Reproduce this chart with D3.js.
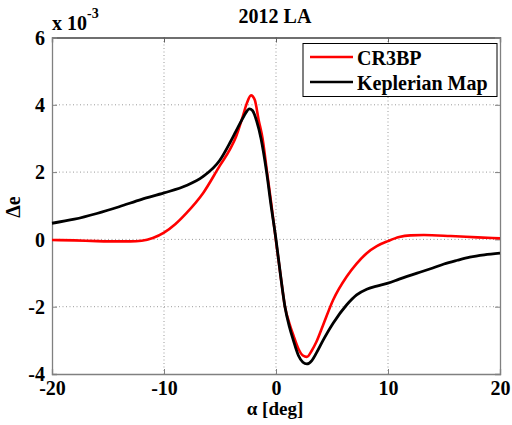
<!DOCTYPE html>
<html>
<head>
<meta charset="utf-8">
<script src="https://cdn.jsdelivr.net/npm/d3@7/dist/d3.min.js"></script>
<style>
  html, body { margin: 0; padding: 0; background: #fff; }
  svg text { font-family: "Liberation Serif", Tinos, "Times New Roman", Times, "Nimbus Roman", "DejaVu Serif", serif; font-weight: bold; fill: #000; }
</style>
</head>
<body>
<svg id="chart" width="512" height="425"></svg>
<script>
// Eccentricity change Δe (x 10^-3) versus angle α for 2012 LA
const alphaCR3BP = [-20, -18, -16, -14, -13, -12, -11, -10, -9, -8, -6.5, -5, -4.1, -3.57, -3, -2.6, -2.23, -1.9, -1.55, -1.2, -0.8, -0.4, 0, 0.4, 0.8, 1.2, 1.55, 2, 2.4, 2.75, 3.2, 3.6, 4.2, 5.1, 6.3, 7.2, 8.1, 9, 10, 11, 12, 13.2, 15.6, 18, 20];
const deltaCR3BP = [-0.02, -0.03, -0.05, -0.06, -0.06, -0.04, 0.04, 0.2, 0.45, 0.78, 1.38, 2.2, 2.68, 3.05, 3.62, 4.05, 4.28, 4.15, 3.55, 3.0, 2.0, 1.0, -0.05, -1.05, -2.0, -2.5, -2.85, -3.25, -3.45, -3.49, -3.3, -3.05, -2.55, -1.8, -1.11, -0.72, -0.41, -0.2, -0.05, 0.07, 0.12, 0.13, 0.1, 0.06, 0.03];

const alphaKepler = [-20, -18, -16, -14, -12, -10, -8, -6.5, -5, -4.1, -3.57, -3, -2.7, -2.38, -2.1, -1.72, -1.34, -0.84, -0.45, 0, 0.4, 0.8, 1.2, 1.55, 2, 2.4, 2.75, 3.2, 3.6, 4.2, 5.1, 6.3, 7.2, 8.1, 9, 10, 11, 12.6, 14, 15, 16.2, 17.3, 18.6, 20];
const deltaKepler = [0.48, 0.6, 0.77, 0.97, 1.19, 1.38, 1.6, 1.87, 2.36, 2.88, 3.22, 3.58, 3.76, 3.88, 3.83, 3.51, 3.0, 2.0, 1.03, 0.0, -1.05, -2.0, -2.6, -3.0, -3.45, -3.65, -3.7, -3.6, -3.38, -3.0, -2.49, -1.95, -1.65, -1.48, -1.39, -1.3, -1.18, -1.0, -0.85, -0.73, -0.62, -0.53, -0.46, -0.41];

const xTicks = [-20, -10, 0, 10, 20];
const yTicks = [-4, -2, 0, 2, 4, 6];
const seriesNames = ["CR3BP", "Keplerian Map"];
const seriesColors = ["#ff0000", "#000000"];

const svg = d3.select("#chart");
const plotLeft = 52, plotRight = 500, plotTop = 37.5, plotBottom = 374;

const x = d3.scaleLinear().domain([-20, 20]).range([plotLeft, plotRight]);
const y = d3.scaleLinear().domain([-4, 6]).range([plotBottom, plotTop]);

// dotted grid at interior ticks
const grid = svg.append("g").attr("stroke", "#9a9a9a").attr("stroke-width", 1).attr("stroke-dasharray", "1,2.5");
xTicks.filter(t => t > -20 && t < 20).forEach(t => {
  grid.append("line").attr("x1", x(t)).attr("x2", x(t)).attr("y1", plotTop).attr("y2", plotBottom);
});
yTicks.filter(t => t > -4 && t < 6).forEach(t => {
  grid.append("line").attr("x1", plotLeft).attr("x2", plotRight).attr("y1", y(t)).attr("y2", y(t));
});

// axes with inward ticks on all four sides
const fmt = d => String(d).replace("\u2212", "-");
const axB = d3.axisBottom(x).tickValues(xTicks).tickSize(-5).tickFormat(fmt);
const axT = d3.axisTop(x).tickValues(xTicks).tickSize(-5).tickFormat("");
const axL = d3.axisLeft(y).tickValues(yTicks).tickSize(-5).tickFormat(fmt);
const axR = d3.axisRight(y).tickValues(yTicks).tickSize(-5).tickFormat("");

const gB = svg.append("g").attr("transform", `translate(0,${plotBottom})`).call(axB);
const gT = svg.append("g").attr("transform", `translate(0,${plotTop})`).call(axT);
const gL = svg.append("g").attr("transform", `translate(${plotLeft},0)`).call(axL);
const gR = svg.append("g").attr("transform", `translate(${plotRight},0)`).call(axR);
[gB, gT, gL, gR].forEach(g => g.attr("font-family", null).attr("font-size", null));

[gB, gL, gR].forEach(g => { g.select(".domain").attr("stroke", "#808080").attr("stroke-width", 1.3); g.selectAll(".tick line").attr("stroke", "#808080"); });
gT.select(".domain").attr("stroke", "#404040").attr("stroke-width", 1.3);
gT.selectAll(".tick line").attr("stroke", "#606060");

gB.selectAll(".tick text").attr("font-size", 20).attr("y", 21).attr("dy", null).attr("fill", "#000");
gL.selectAll(".tick text").attr("font-size", 20).attr("x", -7).attr("dy", "0.34em").attr("fill", "#000");

// curves
const line = d3.line().x(d => x(d[0])).y(d => y(d[1])).curve(d3.curveMonotoneX);
const redPts = alphaCR3BP.map((a, i) => [a, deltaCR3BP[i]]);
const blackPts = alphaKepler.map((a, i) => [a, deltaKepler[i]]);
svg.append("path").datum(redPts).attr("d", line).attr("fill", "none").attr("stroke", seriesColors[0]).attr("stroke-width", 2.6).attr("stroke-linejoin", "round");
svg.append("path").datum(blackPts).attr("d", line).attr("fill", "none").attr("stroke", seriesColors[1]).attr("stroke-width", 2.8).attr("stroke-linejoin", "round");

// title, axis labels, exponent
svg.append("text").attr("x", 275).attr("y", 23).attr("text-anchor", "middle").attr("font-size", 20).text("2012 LA");
const expo = svg.append("text").attr("x", 52).attr("y", 30).attr("font-size", 20);
expo.append("tspan").text("x 10");
expo.append("tspan").attr("font-size", 14).attr("dy", -12).text("-3");
svg.append("text").attr("x", 275).attr("y", 415).attr("text-anchor", "middle").attr("font-size", 19).text("α [deg]");
svg.append("text").attr("transform", "translate(20,207) rotate(-90)").attr("text-anchor", "middle").attr("font-size", 20).text("Δe");

// legend
const lg = svg.append("g");
lg.append("rect").attr("x", 303).attr("y", 43.5).attr("width", 194).attr("height", 53).attr("fill", "#fff").attr("stroke", "#000").attr("stroke-width", 1);
seriesNames.forEach((name, i) => {
  const yy = 57 + i * 25;
  lg.append("line").attr("x1", 310).attr("x2", 353).attr("y1", yy).attr("y2", yy).attr("stroke", seriesColors[i]).attr("stroke-width", 2.6);
  lg.append("text").attr("x", 357).attr("y", yy + 8).attr("font-size", 20).text(name);
});
</script>
</body>
</html>
